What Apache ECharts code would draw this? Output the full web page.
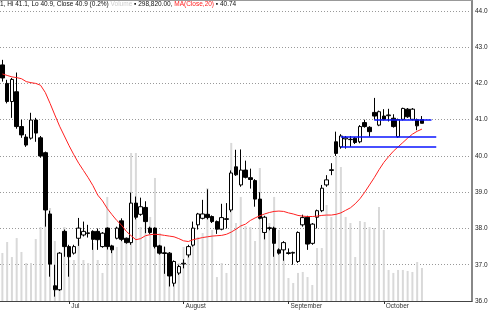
<!DOCTYPE html>
<html><head><meta charset="utf-8">
<script src="https://cdn.jsdelivr.net/npm/echarts@6/dist/echarts.min.js"></script>
<style>html,body{margin:0;padding:0;background:#fff}#c{width:500px;height:312px}</style>
</head><body><div id="c"></div>
<script>
// ---- data ----
const opens=[
42.51,42.00,41.50,41.77,40.81,40.52,40.49,40.99,40.50,40.09,
38.40,36.42,36.31,37.92,37.50,37.32,37.73,37.82,37.86,37.92,
37.92,37.50,38.01,37.52,37.73,38.21,37.73,37.61,38.70,38.39,
38.58,38.01,38.01,37.52,37.33,37.32,36.49,36.77,37.02,37.27,
37.54,38.10,38.28,38.39,38.33,38.19,37.98,38.25,38.51,39.70,
39.20,39.61,39.40,39.32,38.81,37.89,38.00,38.01,37.41,37.41,
37.33,37.32,37.09,38.10,38.31,37.59,38.31,38.49,39.20,39.60,
40.39,40.25,40.47,40.45,40.49,40.39,40.92,40.79,41.20,40.85,
41.10,41.11,41.04,40.53,41.01,41.29,41.01,41.00,41.00];
const closes=[
42.15,41.50,42.11,40.81,40.58,40.30,40.99,40.63,40.00,38.51,
37.02,36.31,37.32,37.50,37.22,37.50,38.01,37.92,37.88,37.70,
37.69,37.87,37.50,37.41,38.01,37.70,37.61,38.70,38.31,38.60,
38.19,37.89,37.50,37.32,37.31,36.69,37.09,36.95,37.04,37.50,
38.01,38.40,38.40,38.30,38.19,37.98,38.30,38.27,39.53,39.48,
39.61,39.41,39.35,38.81,38.28,38.31,38.02,37.59,37.32,37.61,
37.31,37.34,37.89,38.30,37.57,38.12,38.49,39.11,39.34,39.62,
40.07,40.55,40.50,40.46,40.37,40.81,40.81,40.67,41.10,41.22,
41.01,41.13,40.81,41.00,41.31,41.08,41.29,40.83,40.90];
const lows=[
42.05,41.45,41.05,40.75,40.50,40.25,40.45,40.39,39.95,38.05,
36.67,36.12,36.28,37.22,36.67,37.28,37.52,37.78,37.75,37.41,
37.41,37.47,37.42,37.32,37.70,37.65,37.58,37.55,38.25,38.35,
37.87,37.85,37.45,37.28,36.75,36.40,36.40,36.72,36.90,37.20,
37.50,37.97,38.25,38.25,38.15,37.85,37.95,38.00,38.45,39.45,
39.15,39.38,39.10,38.60,38.25,37.70,37.95,37.22,37.28,37.11,
37.28,37.00,37.05,38.05,37.41,37.55,38.00,38.45,39.15,39.47,
40.00,40.20,40.20,40.25,40.33,40.35,40.78,40.53,41.00,40.82,
40.98,40.95,40.78,40.50,40.98,41.05,40.98,40.71,40.90];
const highs=[
42.65,42.10,42.15,42.30,41.00,40.60,41.19,41.05,40.55,40.12,
38.49,37.00,37.35,37.97,37.55,37.55,38.29,38.19,38.10,37.95,
38.00,37.90,38.03,37.55,38.05,38.28,37.75,38.99,38.88,38.85,
38.75,38.05,38.03,37.55,37.50,37.35,37.12,37.00,37.15,37.55,
38.19,38.43,38.79,39.08,38.36,38.22,38.68,38.70,39.60,40.17,
40.18,39.87,39.65,39.36,39.00,38.35,38.05,38.05,37.45,37.65,
37.45,37.36,37.92,38.38,38.35,38.15,38.52,39.20,39.47,39.80,
40.67,40.60,40.55,40.55,40.52,40.85,41.00,40.82,41.60,41.25,
41.29,41.30,41.15,41.03,41.33,41.32,41.32,41.03,41.10];
// volume in thousands of shares
const volumes=[
435,534,398,570,444,344,344,561,670,824,
842,543,435,670,371,371,552,371,344,525,
371,254,942,489,489,643,552,1340,1340,670,
851,761,1114,616,489,344,317,344,489,489,
643,580,616,1023,643,217,344,254,1431,706,
942,679,670,543,1204,706,706,942,643,462,
208,163,254,263,217,145,480,480,869,761,
1304,1213,761,706,398,724,715,670,661,851,
643,281,254,281,281,272,263,353,298.82];
// MA(Close,20) as drawn
const ma20=[
42.26,42.22,42.18,42.16,42.13,42.05,42.02,42.00,41.95,41.75,
41.45,41.13,40.82,40.55,40.28,40.03,39.80,39.60,39.40,39.18,
38.92,38.76,38.55,38.38,38.22,38.09,37.92,37.80,37.69,37.72,
37.80,37.83,37.84,37.83,37.81,37.79,37.77,37.72,37.66,37.64,
37.69,37.72,37.75,37.77,37.79,37.80,37.81,37.84,37.90,37.98,
38.07,38.12,38.22,38.29,38.35,38.40,38.44,38.47,38.48,38.47,
38.43,38.40,38.36,38.34,38.33,38.33,38.34,38.36,38.37,38.37,
38.39,38.43,38.50,38.57,38.68,38.82,39.00,39.20,39.40,39.62,
39.82,39.98,40.13,40.25,40.37,40.49,40.60,40.68,40.74];
const monthIdx=[14,38,60,80];
const monthNames=['Jul','August','September','October'];
const slotCount=99;            // trading-day slots on the axis (incl. empty future space)
const yTicks=[36,37,38,39,40,41,42,43,44];
// hand-drawn blue level lines: price level, start slot, end slot
const blueLevels=[41.01,40.52,40.24];
const blueStart=[78,71,71];
const blueEnd=[90,91,91];

// ---- chart ----
const FONT='Liberation Sans';
const last=opens.length-1;
const cats=Array.from({length:slotCount},(_,i)=>'d'+i);
const candle=opens.map((o,i)=>[o,closes[i],lows[i],highs[i]]);
const fmtVol=v=>Math.round(v*1000).toLocaleString('en-US');
const chart=echarts.init(document.getElementById('c'),null,{renderer:'canvas'});
const blueData=blueLevels.map((lv,k)=>[{coord:[blueStart[k],lv]},{coord:[blueEnd[k],lv]}]);
const option={
  animation:false,
  grid:{left:0,right:28,top:0,bottom:11,containLabel:false},
  xAxis:[{
    type:'category',data:cats,boundaryGap:true,
    axisLine:{show:true,lineStyle:{color:'#444',width:1}},
    axisTick:{show:true,alignWithLabel:true,interval:(i)=>monthIdx.includes(i),length:3,lineStyle:{color:'#333'}},
    axisLabel:{interval:(i)=>monthIdx.includes(i),
      formatter:(v,i)=>{const k=monthIdx.indexOf(i);return k>=0?monthNames[k]:'';},
      align:'left',margin:2,fontSize:6.5,fontFamily:FONT,color:'#333',padding:[0,0,0,2]},
    splitLine:{show:false}
  },{
    type:'category',data:cats,position:'top',
    axisLine:{show:true,lineStyle:{color:'#999',width:1}},axisTick:{show:false},axisLabel:{show:false}
  }],
  yAxis:[{
    type:'value',position:'right',min:yTicks[0],max:44.3,interval:1,
    axisLine:{show:true,lineStyle:{color:'#888',width:2}},axisTick:{show:false},
    axisLabel:{formatter:v=>yTicks.includes(v)?v.toFixed(1):'',fontSize:6.5,fontFamily:FONT,color:'#222',margin:3,showMaxLabel:false},
    splitLine:{show:true,lineStyle:{color:'#999',width:1,type:[1,2]}}
  },{
    type:'value',min:0,max:2725,show:false,splitLine:{show:false}
  }],
  series:[
    {type:'bar',name:'Volume',data:volumes,yAxisIndex:1,barWidth:2,itemStyle:{color:'#d9d9d9'},silent:true},
    {type:'candlestick',name:'Price',data:candle,barWidth:4,silent:true,
      itemStyle:{color:'#ffffff',color0:'#000000',borderColor:'#000000',borderColor0:'#000000',borderWidth:1},
      markLine:{symbol:'none',silent:true,animation:false,
        lineStyle:{color:'#0a14ff',width:1.5,type:'solid'},
        label:{show:false},
        emphasis:{disabled:true},
        data:[
          {yAxis:closes[last],lineStyle:{opacity:0},
            label:{show:true,position:'end',distance:1,formatter:closes[last].toFixed(1),
              backgroundColor:'#000',color:'#fff',padding:[1,2,0,2],fontSize:6.5,fontFamily:FONT}},
          {yAxis:closes[last],lineStyle:{opacity:0},
            label:{show:true,position:'end',distance:1,formatter:fmtVol(volumes[last]),offset:[0,-8],
              backgroundColor:'#e2e2e2',color:'#333',padding:[1,1,0,1],fontSize:6.5,fontFamily:FONT}},
          ...blueData
        ]}
    },
    {type:'line',name:'MA',data:ma20,showSymbol:false,symbol:'none',silent:true,
      lineStyle:{color:'#ff2020',width:1},
      markLine:{symbol:'none',silent:true,animation:false,
        data:[{yAxis:ma20[last],lineStyle:{opacity:0},
          label:{show:true,position:'end',distance:1,formatter:ma20[last].toFixed(2),offset:[0,3],
            backgroundColor:'#ff0000',color:'#000',padding:[1,2,0,2],fontSize:6.5,fontFamily:FONT}}]}
    }
  ],
  graphic:[{
    type:'text',left:0,top:1,silent:true,
    style:{
      text:'{a|1, Hi '+highs[last].toFixed(1)+', Lo '+lows[last].toFixed(1)+', Close '+closes[last].toFixed(1)+' (0.2%) }{b|Volume}{a| \u25AA '+fmtVol(volumes[last])+'.00, }{c|MA(Close,20)}{a| \u25AA '+ma20[last].toFixed(2)+'}',
      rich:{
        a:{fill:'#111',fontSize:6.5,fontFamily:FONT},
        b:{fill:'#cfcfcf',fontSize:6.5,fontFamily:FONT},
        c:{fill:'#ff2020',fontSize:6.5,fontFamily:FONT}
      }
    }
  }]
};
chart.setOption(option);
</script></body></html>
